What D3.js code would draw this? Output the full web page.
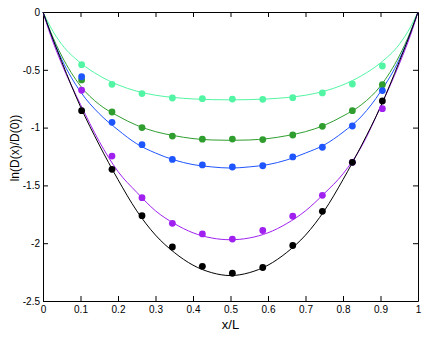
<!DOCTYPE html>
<html>
<head>
<meta charset="utf-8">
<script src="https://cdn.jsdelivr.net/npm/d3@7"></script>
<style>
  body { margin: 0; background: #fff; }
  text { font-family: "Liberation Sans", Arial, sans-serif; }
</style>
</head>
<body>
<script>
// measured points (x/L positions)
var xPts = [0.103, 0.184, 0.264, 0.345, 0.425, 0.505, 0.586, 0.666, 0.745, 0.825, 0.905];
var cyanPts   = [-0.456, -0.626, -0.706, -0.744, -0.750, -0.753, -0.755, -0.741, -0.700, -0.623, -0.467];
var greenPts  = [-0.588, -0.865, -1.000, -1.073, -1.100, -1.099, -1.104, -1.064, -0.989, -0.854, -0.629];
var bluePts   = [-0.560, -0.954, -1.148, -1.275, -1.323, -1.341, -1.330, -1.254, -1.170, -0.986, -0.680];
var purplePts = [-0.677, -1.246, -1.606, -1.828, -1.920, -1.964, -1.890, -1.767, -1.586, -1.300, -0.836];
var blackPts  = [-0.854, -1.361, -1.762, -2.033, -2.200, -2.260, -2.210, -2.020, -1.724, -1.300, -0.770];

// fitted curves
var xFit = [0, 0.02, 0.05, 0.1, 0.15, 0.2, 0.25, 0.3, 0.35, 0.4, 0.45, 0.5, 0.55, 0.6, 0.65, 0.7, 0.75, 0.8, 0.85, 0.9, 0.95, 0.98, 1];
var cyanFit   = [0, -0.13, -0.28, -0.44, -0.55, -0.63, -0.685, -0.72, -0.74, -0.752, -0.758, -0.76, -0.758, -0.752, -0.74, -0.72, -0.685, -0.63, -0.55, -0.44, -0.28, -0.13, 0];
var greenFit  = [0, -0.17, -0.38, -0.64, -0.8, -0.9, -0.98, -1.035, -1.07, -1.095, -1.107, -1.11, -1.107, -1.095, -1.07, -1.035, -0.98, -0.9, -0.8, -0.64, -0.38, -0.17, 0];
var blueFit   = [0, -0.18, -0.41, -0.69, -0.88, -1.02, -1.14, -1.22, -1.28, -1.32, -1.34, -1.35, -1.34, -1.32, -1.28, -1.22, -1.15, -1.04, -0.9, -0.69, -0.41, -0.18, 0];
var purpleFit = [0, -0.2, -0.45, -0.8, -1.12, -1.38, -1.56, -1.72, -1.83, -1.91, -1.955, -1.97, -1.955, -1.91, -1.83, -1.72, -1.57, -1.4, -1.16, -0.82, -0.45, -0.2, 0];
var blackFit  = [0, -0.18, -0.43, -0.82, -1.15, -1.45, -1.72, -1.93, -2.08, -2.19, -2.255, -2.28, -2.255, -2.19, -2.08, -1.93, -1.72, -1.45, -1.15, -0.82, -0.43, -0.18, 0];

var xTicks = [0, 0.1, 0.2, 0.3, 0.4, 0.5, 0.6, 0.7, 0.8, 0.9, 1];
var yTicks = [0, -0.5, -1, -1.5, -2, -2.5];

var series = [
  {pts: cyanPts,   fit: cyanFit,   color: "#52f5a3"},
  {pts: greenPts,  fit: greenFit,  color: "#2f9e2f"},
  {pts: bluePts,   fit: blueFit,   color: "#1f55ff"},
  {pts: purplePts, fit: purpleFit, color: "#a020f0"},
  {pts: blackPts,  fit: blackFit,  color: "#000000"}
];

var W = 436, H = 338;
var svg = d3.select("body").append("svg").attr("width", W).attr("height", H);

var pLeft = 43, pRight = 418, pTop = 12, pBottom = 301;
var x = d3.scaleLinear().domain([0, 1]).range([pLeft, pRight]);
var y = d3.scaleLinear().domain([-2.5, 0]).range([pBottom, pTop]);

var fmt = function(d){ return String(d); };

// axes with inward ticks
svg.append("g").attr("transform", "translate(0," + pBottom + ")")
  .call(d3.axisBottom(x).tickValues(xTicks).tickSizeInner(-5).tickSizeOuter(0).tickPadding(5).tickFormat(fmt));
svg.append("g").attr("transform", "translate(0," + pTop + ")")
  .call(d3.axisTop(x).tickValues(xTicks).tickSizeInner(-5).tickSizeOuter(0).tickFormat(""));
svg.append("g").attr("transform", "translate(" + pLeft + ",0)")
  .call(d3.axisLeft(y).tickValues(yTicks).tickSizeInner(-5).tickSizeOuter(0).tickPadding(3).tickFormat(fmt));
svg.append("g").attr("transform", "translate(" + pRight + ",0)")
  .call(d3.axisRight(y).tickValues(yTicks).tickSizeInner(-5).tickSizeOuter(0).tickFormat(""));

svg.selectAll(".domain").attr("stroke", "#000");
svg.selectAll(".tick line").attr("stroke", "#000");
svg.selectAll(".tick text").attr("font-size", 10).attr("fill", "#000")
  .attr("font-family", "Liberation Sans, Arial, sans-serif");

var line = d3.line()
  .x(function(d){ return x(d[0]); })
  .y(function(d){ return y(d[1]); })
  .curve(d3.curveMonotoneX);

series.forEach(function(s){
  svg.append("path")
    .datum(xFit.map(function(v, i){ return [v, s.fit[i]]; }))
    .attr("d", line)
    .attr("fill", "none")
    .attr("stroke", s.color)
    .attr("stroke-width", 1);
});

series.forEach(function(s){
  svg.selectAll(null)
    .data(xPts.map(function(v, i){ return [v, s.pts[i]]; }))
    .enter()
    .append("circle")
    .attr("cx", function(d){ return x(d[0]); })
    .attr("cy", function(d){ return y(d[1]); })
    .attr("r", 3.4)
    .attr("fill", s.color);
});

svg.append("text")
  .attr("x", (pLeft + pRight) / 2).attr("y", 329)
  .attr("text-anchor", "middle").attr("font-size", 13)
  .text("x/L");

svg.append("text")
  .attr("transform", "translate(19,148) rotate(-90)")
  .attr("text-anchor", "middle").attr("font-size", 12)
  .text("ln(D(x)/D(0))");
</script>
</body>
</html>
